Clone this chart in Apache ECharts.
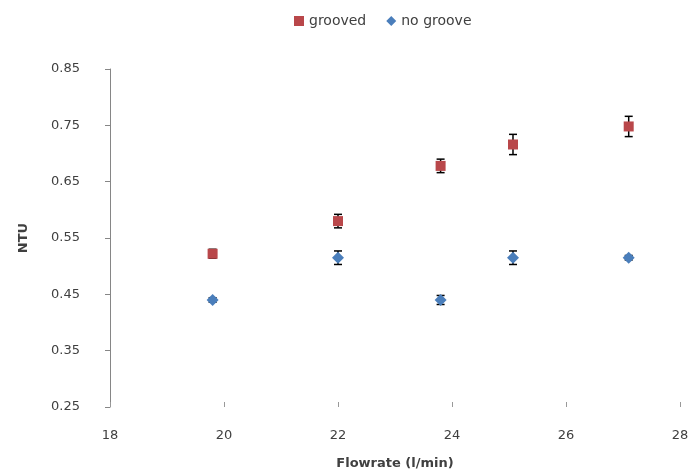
<!DOCTYPE html>
<html>
<head>
<meta charset="utf-8">
<script src="https://cdn.jsdelivr.net/npm/echarts@6/dist/echarts.min.js"></script>
<style>
  html, body { margin: 0; padding: 0; background: #fff; }
  #chart { width: 692px; height: 475px; }
</style>
</head>
<body>
<div id="chart"></div>
<script>
// flowrate (l/min) for each measured point
const flowrate = [19.8, 22.0, 23.8, 25.07, 27.1];
const grooved = [0.522, 0.580, 0.678, 0.716, 0.748];
const groovedErr = [0.008, 0.012, 0.012, 0.018, 0.018];
const noGroove = [0.440, 0.515, 0.440, 0.515, 0.515];
const noGrooveErr = [0.004, 0.012, 0.008, 0.012, 0.004];

const chart = echarts.init(document.getElementById('chart'));

function pairs(ys) {
  return flowrate.map((x, i) => [x, ys[i]]);
}

function errData(ys, errs) {
  return flowrate.map((x, i) => [x, ys[i] - errs[i], ys[i] + errs[i]]);
}

// vertical error bar with caps, drawn under the markers
function renderErr(params, api) {
  const x = api.value(0);
  const lo = api.coord([x, api.value(1)]);
  const hi = api.coord([x, api.value(2)]);
  const w = 4;
  const style = { stroke: '#000', lineWidth: 1.5 };
  return {
    type: 'group',
    children: [
      { type: 'line', shape: { x1: lo[0], y1: lo[1], x2: hi[0], y2: hi[1] }, style: style },
      { type: 'line', shape: { x1: lo[0] - w, y1: lo[1], x2: lo[0] + w, y2: lo[1] }, style: style },
      { type: 'line', shape: { x1: hi[0] - w, y1: hi[1], x2: hi[0] + w, y2: hi[1] }, style: style }
    ]
  };
}

const textColor = '#404040';

const option = {
  animation: false,
  legend: {
    top: 9,
    left: 289,
    itemGap: 20,
    itemWidth: 10,
    itemHeight: 10,
    textStyle: { color: textColor, fontSize: 14, fontFamily: 'DejaVu Sans' },
    data: [
      { name: 'grooved', icon: 'rect' },
      { name: 'no groove', icon: 'diamond' }
    ]
  },
  grid: { left: 110, right: 12, top: 69, bottom: 67 },
  xAxis: {
    type: 'value',
    min: 18,
    max: 28,
    interval: 2,
    name: 'Flowrate (l/min)',
    nameLocation: 'middle',
    nameGap: 50,
    nameTextStyle: { color: textColor, fontSize: 13, fontWeight: 'bold', fontFamily: 'DejaVu Sans' },
    axisLine: { show: false },
    axisTick: { show: true, inside: true, length: 5, lineStyle: { color: '#999' } },
    axisLabel: { color: textColor, fontSize: 13, margin: 22, fontFamily: 'DejaVu Sans' },
    splitLine: { show: false }
  },
  yAxis: {
    type: 'value',
    min: 0.25,
    max: 0.85,
    interval: 0.1,
    name: 'NTU',
    nameLocation: 'middle',
    nameGap: 80,
    nameTextStyle: { color: textColor, fontSize: 13, fontWeight: 'bold', fontFamily: 'DejaVu Sans' },
    axisLine: { show: true, lineStyle: { color: '#868686', width: 1 } },
    axisTick: { show: true, length: 5, lineStyle: { color: '#868686' } },
    axisLabel: {
      color: textColor, fontSize: 13, margin: 30, fontFamily: 'DejaVu Sans',
      formatter: v => v.toFixed(2)
    },
    splitLine: { show: false }
  },
  series: [
    {
      type: 'custom',
      renderItem: renderErr,
      data: errData(grooved, groovedErr),
      encode: { x: 0, y: [1, 2] },
      z: 1,
      silent: true
    },
    {
      type: 'custom',
      renderItem: renderErr,
      data: errData(noGroove, noGrooveErr),
      encode: { x: 0, y: [1, 2] },
      z: 1,
      silent: true
    },
    {
      name: 'grooved',
      type: 'scatter',
      symbol: 'rect',
      symbolSize: 10,
      itemStyle: { color: '#B9474A', opacity: 1 },
      data: pairs(grooved),
      z: 3
    },
    {
      name: 'no groove',
      type: 'scatter',
      symbol: 'diamond',
      symbolSize: 12,
      itemStyle: { color: '#4A7EBB', opacity: 1 },
      data: pairs(noGroove),
      z: 3
    }
  ]
};

chart.setOption(option);
</script>
</body>
</html>
